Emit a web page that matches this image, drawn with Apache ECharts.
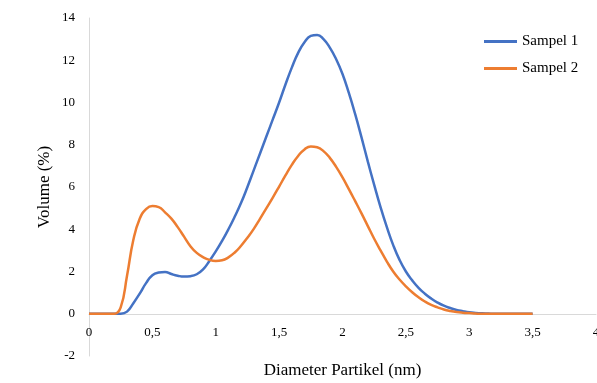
<!DOCTYPE html>
<html>
<head>
<meta charset="utf-8">
<script src="https://cdn.jsdelivr.net/npm/echarts@6/dist/echarts.min.js"></script>
<style>
  html, body { margin: 0; padding: 0; background: #ffffff; }
  #chart { width: 597px; height: 383px; }
</style>
</head>
<body>
<div id="chart"></div>
<script>
// diameter (nm)
const diameter = [0, 0.05, 0.1, 0.15, 0.2, 0.25, 0.3, 0.35, 0.4, 0.45, 0.5, 0.55, 0.6, 0.65, 0.7, 0.75, 0.8, 0.85, 0.9, 0.95,
  1.0, 1.05, 1.1, 1.15, 1.2, 1.25, 1.3, 1.35, 1.4, 1.45, 1.5, 1.55, 1.6, 1.65, 1.7, 1.75, 1.8, 1.85, 1.9, 1.95,
  2.0, 2.05, 2.1, 2.15, 2.2, 2.25, 2.3, 2.35, 2.4, 2.45, 2.5, 2.55, 2.6, 2.65, 2.7, 2.75, 2.8, 2.85, 2.9, 2.95,
  3.0, 3.05, 3.1, 3.15, 3.2, 3.25, 3.3, 3.35, 3.4, 3.45, 3.5];

// volume (%)
const sampel1 = [0, 0, 0, 0, 0, 0, 0.1, 0.5, 0.95, 1.45, 1.82, 1.95, 1.98, 1.88, 1.8, 1.76, 1.78, 1.87, 2.1, 2.5,
  2.95, 3.45, 4.0, 4.6, 5.25, 6.0, 6.8, 7.6, 8.4, 9.2, 10.0, 10.85, 11.65, 12.35, 12.85, 13.15, 13.2, 13.0, 12.6, 12.05,
  11.35, 10.45, 9.45, 8.35, 7.2, 6.1, 5.05, 4.1, 3.25, 2.55, 2.0, 1.58, 1.23, 0.95, 0.72, 0.53, 0.38, 0.27, 0.18, 0.12,
  0.07, 0.04, 0.02, 0.01, 0, 0, 0, 0, 0, 0, 0];
const sampel2 = [0, 0, 0, 0, 0, 0.3, 1.8, 3.5, 4.5, 4.95, 5.1, 5.05, 4.8, 4.5, 4.1, 3.65, 3.2, 2.88, 2.68, 2.55,
  2.5, 2.53, 2.67, 2.9, 3.22, 3.6, 4.02, 4.5, 5.0, 5.5, 6.02, 6.55, 7.05, 7.47, 7.78, 7.92, 7.88, 7.7, 7.38, 6.95,
  6.45, 5.9, 5.33, 4.75, 4.15, 3.55, 3.0, 2.47, 2.0, 1.62, 1.3, 1.02, 0.78, 0.58, 0.42, 0.3, 0.2, 0.13, 0.08, 0.05,
  0.03, 0.01, 0, 0, 0, 0, 0, 0, 0, 0, 0];

const seriesNames = ["Sampel 1", "Sampel 2"];
const seriesColors = ["#4472C4", "#ED7D31"];

const font = "'Liberation Serif', 'Times New Roman', serif";
const fmt = (v) => String(v).replace(".", ",");

const chart = echarts.init(document.getElementById("chart"));

const option = {
  animation: false,
  backgroundColor: "#ffffff",
  textStyle: { fontFamily: font },
  grid: { left: 89, right: 1, top: 18, bottom: 27, containLabel: false, outerBoundsMode: "none" },
  legend: {
    orient: "vertical",
    left: 479,
    top: 29,
    icon: "rect",
    itemWidth: 33,
    itemHeight: 3,
    itemGap: 12,
    data: seriesNames,
    textStyle: { fontFamily: font, fontSize: 15, color: "#000000" },
  },
  xAxis: {
    type: "value",
    min: 0,
    max: 4,
    interval: 0.5,
    offset: -42,
    name: "Diameter Partikel (nm)",
    nameLocation: "middle",
    nameGap: 48,
    nameMoveOverlap: false,
    nameTextStyle: { fontFamily: font, fontSize: 17, color: "#000000" },
    axisLine: { onZero: false, lineStyle: { color: "#d9d9d9", width: 1 } },
    axisTick: { show: false },
    axisLabel: { color: "#000000", fontSize: 13, fontFamily: font, margin: 12, formatter: fmt },
    splitLine: { show: false },
  },
  yAxis: {
    type: "value",
    min: -2,
    max: 14,
    interval: 2,
    name: "Volume (%)",
    nameLocation: "middle",
    nameGap: 36,
    nameMoveOverlap: false,
    nameTextStyle: { fontFamily: font, fontSize: 17, color: "#000000" },
    axisLine: { show: true, onZero: false, lineStyle: { color: "#d9d9d9", width: 1 } },
    axisTick: { show: false },
    axisLabel: { color: "#000000", fontSize: 13, fontFamily: font, margin: 14 },
    splitLine: { show: false },
  },
  series: seriesNames.map((name, i) => ({
    name,
    type: "line",
    smooth: 0.5,
    symbol: "none",
    data: diameter.map((d, j) => [d, [sampel1, sampel2][i][j]]),
    lineStyle: { color: seriesColors[i], width: 2.5 },
    itemStyle: { color: seriesColors[i] },
  })),
};

chart.setOption(option);
</script>
</body>
</html>
